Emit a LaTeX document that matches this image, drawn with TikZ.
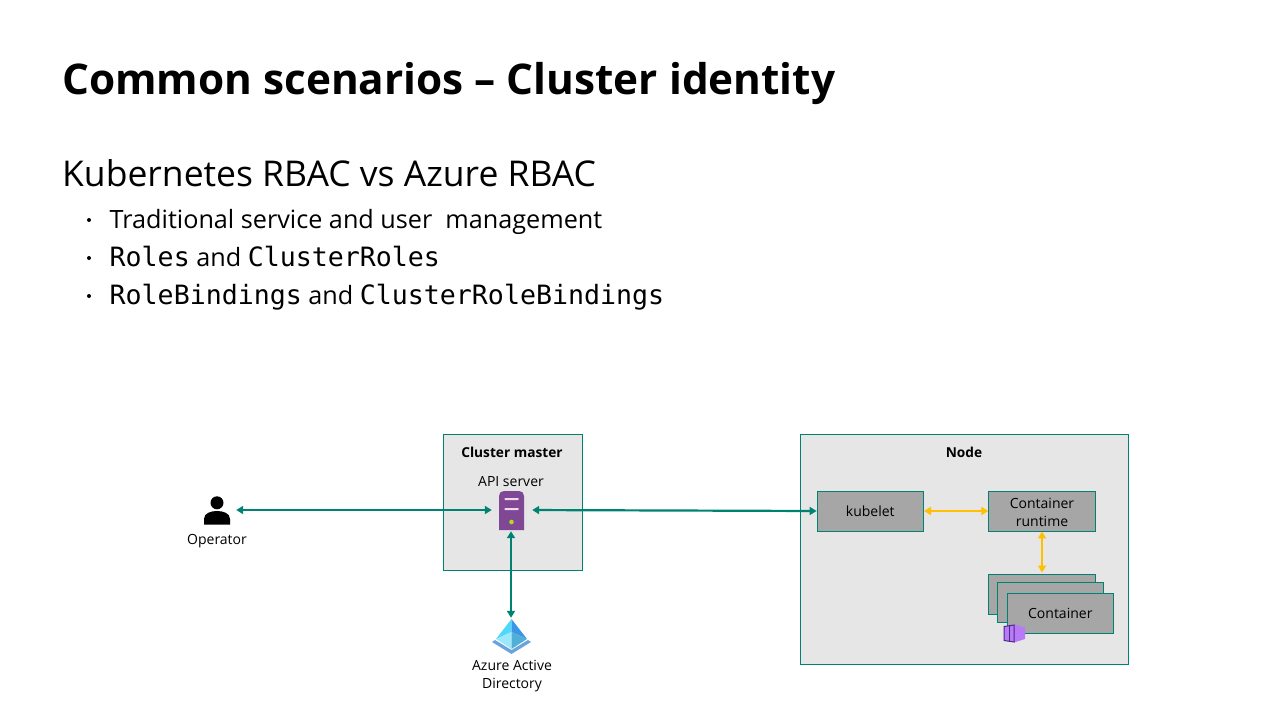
\documentclass[tikz,border=0pt]{standalone}
\usepackage{fontspec}
\setmainfont{Open Sans}
\newfontfamily\codefont{DejaVu Sans Mono}
\newcommand{\codetxt}[1]{{\codefont\fontsize{26.6}{30}\selectfont #1}}
\usetikzlibrary{arrows.meta,positioning}
\definecolor{teal}{HTML}{008272}
\definecolor{amber}{HTML}{FFC000}
\definecolor{boxgray}{HTML}{E6E6E6}
\definecolor{partgray}{HTML}{A6A6A6}
\tikzset{
  groupbox/.style={draw=teal,fill=boxgray,line width=1pt,inner sep=0pt},
  partbox/.style={draw=teal,fill=partgray,line width=0.9pt,inner sep=0pt,align=center,
    minimum width=106.5pt,minimum height=40pt,font=\fontsize{14}{18}\selectfont},
  iconbox/.style={inner sep=0pt},
  small/.style={inner sep=0pt,align=center,font=\fontsize{14}{18}\selectfont},
  smallbold/.style={small,font=\fontsize{13.7}{18}\selectfont\bfseries},
  conn/.style={draw=teal,line width=2.2pt,{Triangle[length=7pt,width=8pt]}-{Triangle[length=7pt,width=8pt]}},
  yconn/.style={conn,draw=amber},
  slide/.style={inner sep=0pt,anchor=base west}
}
\begin{document}
\begin{tikzpicture}[x=1pt,y=-1pt]
    \useasboundingbox (0,0) rectangle (1280,720);
    % slide text
    \node[slide,font=\fontsize{42.3}{50}\selectfont\bfseries] (title) at (62,94.5) {Common scenarios – Cluster identity};
    \node[slide,font=\fontsize{35.5}{40}\selectfont] (subtitle) at (62,186) {Kubernetes RBAC vs Azure RBAC};
    \foreach \y/\txt in {228/{Traditional service and user\ \ management},
                         266/{\codetxt{Roles} and \codetxt{ClusterRoles}},
                         304/{\codetxt{RoleBindings} and \codetxt{ClusterRoleBindings}}} {
        \fill (89,\y-8) circle (2);
        \node[slide,font=\fontsize{25.2}{30}\selectfont] at (109.5,\y) {\txt};
    }
    % boxes
    \node[groupbox,minimum width=139pt,minimum height=136pt] (master) at (513,502.5) {};
    \node[smallbold] (mastertitle) at (512,452) {Cluster master};
    \node[small] (apilabel) at (511,481.5) {API server};
    \node[groupbox,minimum width=328pt,minimum height=230pt] (worker) at (964.5,549.5) {};
    \node[smallbold] (workertitle) at (964,452) {Node};
    \node[partbox] (kubelet) at (870.3,511) {kubelet};
    \node[partbox] (runtime) at (1042,511) {\rule{0pt}{12.5pt}Container\\runtime};
    \node[partbox] (stacka) at (1042,594) {};
    \node[partbox] (stackb) at (1050.5,602) {};
    \node[partbox] (stackc) at (1060.3,613) {Container};
    % operator
    \node[iconbox,minimum width=26pt,minimum height=28pt] (operator) at (217,510) {};
    \fill (operator.north) ++(0,7) circle (6.5);
    \fill (204,524.5) -- (204,519) .. controls (204,513) and (211,511) .. (217,511) .. controls (223,511) and (230,513) .. (230,519) -- (230,524.5) -- cycle;
    \node[small] (oplabel) at (217,541) {Operator};
    % api server icon
    \node[iconbox,minimum width=26pt,minimum height=40pt] (api) at (511,510) {};
    \fill[fill={rgb,255:red,128;green,72;blue,148}] (499,530) -- (499,496) .. controls (499,493) and (501,491) .. (504,491) -- (519,491) .. controls (522,491) and (524,493) .. (524,496) -- (524,530) -- cycle;
    \fill[color=white!85!violet,rounded corners=0.5pt] (504.5,498) rectangle (518.5,500);
    \fill[color=white!85!violet,rounded corners=0.5pt] (504.5,508) rectangle (518.5,510);
    \fill[color=yellow!70!green] (511.5,522) circle (2.3);
    % aad icon
    \node[iconbox,minimum width=40pt,minimum height=36pt] (aad) at (511,637) {};
    \fill[color=cyan!60!blue!60!white] (492,642) -- (495,640) -- (511.5,650) -- (528,640) -- (531,642) -- (511.5,654) -- cycle;
    \fill[color={rgb,255:red,80;green,215;blue,250}] (511.5,619) -- (496,639) -- (511.5,632) -- cycle;
    \fill[color={rgb,255:red,60;green,150;blue,230}] (511.5,619) -- (527,639) -- (511.5,632) -- cycle;
    \fill[color={rgb,255:red,155;green,232;blue,250}] (496,639) -- (511.5,632) -- (511.5,649) -- cycle;
    \fill[color={rgb,255:red,80;green,175;blue,215}] (527,639) -- (511.5,632) -- (511.5,649) -- cycle;
    \node[small] (aadlabel) at (512,676.5) {Azure Active\\Directory};
    % container icon
    \fill[color={rgb,255:red,184;green,122;blue,245}] (1014,624.5) -- (1022,626.5) -- (1025,627.5) -- (1025,639) -- (1014,642.5) -- cycle;
    \draw[color={rgb,255:red,74;green,40;blue,140},fill={rgb,255:red,184;green,122;blue,245},line width=1pt] (1004,626.5) -- (1014,625) -- (1014,642) -- (1004,640.5) -- cycle;
    \draw[color={rgb,255:red,74;green,40;blue,140},line width=1pt] (1009,626) -- (1009,641);
    % connectors
    \draw[conn,shorten <=6pt,shorten >=6pt] (operator.east) -- (api.west);
    \draw[conn,shorten <=8pt] (api.east) -- (kubelet.west);
    \draw[conn,shorten <=1pt,shorten >=1pt] (api.south) -- (aad.north);
    \draw[yconn] (kubelet.east) -- (runtime.west);
    \draw[yconn,shorten >=1pt] (runtime.south) -- (stacka.north);
\end{tikzpicture}
\end{document}
